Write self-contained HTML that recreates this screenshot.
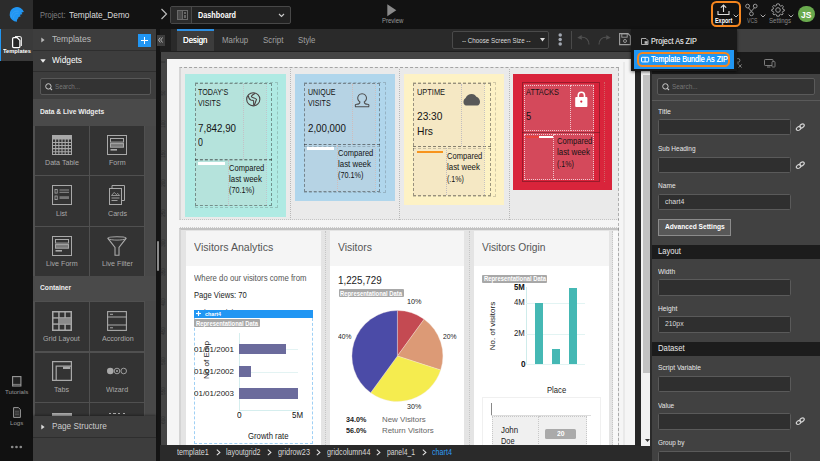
<!DOCTYPE html>
<html><head><meta charset="utf-8"><title>Studio</title>
<style>
*{box-sizing:border-box;margin:0;padding:0}
html,body{width:820px;height:461px;overflow:hidden;background:#111;font-family:"Liberation Sans",sans-serif;}
.a{position:absolute}
#root{position:relative;width:820px;height:461px;overflow:hidden;background:#111;color:#ddd;font-size:9px}
.t{position:absolute;white-space:nowrap;line-height:1}
svg{position:absolute;overflow:visible}
</style></head><body>
<div id="root">

<!-- part1.html -->
<div class="a" style="left:0.00px;top:0.00px;width:820.00px;height:29.00px;background:#121212;"></div>
<div class="a" style="left:0.00px;top:0.00px;width:33.40px;height:28.60px;background:#2c2c2c;"></div>
<div class="a" style="left:0.00px;top:29.00px;width:33.00px;height:432.00px;background:#111;"></div>
<div class="a" style="left:0.00px;top:29.00px;width:33.00px;height:32.00px;background:#3a3a3a;border-left:1px solid #2196f3;"></div>
<div class="a" style="left:33.00px;top:29.00px;width:123.00px;height:432.00px;background:#3d3d3d;"></div>
<div class="a" style="left:156.00px;top:29.00px;width:4.00px;height:432.00px;background:#141414;"></div>
<div class="a" style="left:160.00px;top:29.00px;width:491.00px;height:22.00px;background:#2a2a2a;"></div>
<div class="a" style="left:160.00px;top:51.00px;width:481.00px;height:395.00px;background:#454545;"></div>
<div class="a" style="left:159.50px;top:51.00px;width:1.20px;height:395.00px;background:#161616;"></div>
<div class="a" style="left:167.00px;top:59.00px;width:468.00px;height:387.00px;background:#f5f5f5;"></div>
<div class="a" style="left:635.00px;top:51.00px;width:6.00px;height:395.00px;background:#262626;"></div>
<div class="a" style="left:641.00px;top:51.00px;width:9.30px;height:395.00px;background:#f1f1f1;"></div>
<div class="a" style="left:643.00px;top:75.00px;width:7.30px;height:298.00px;background:#c1c1c1;"></div>
<div class="a" style="left:160.00px;top:445.00px;width:491.00px;height:16.00px;background:#2a2a2a;"></div>
<div class="a" style="left:651.00px;top:29.00px;width:169.00px;height:432.00px;background:#3f3f3f;"></div>
<div class="a" style="left:651.00px;top:51.50px;width:169.00px;height:22.00px;background:#1a1a1a;"></div>
<svg style="left:0;top:0" width="34" height="29" viewBox="0 0 34 29"><path d="M16.9 21.7 A7.35 7.35 0 1 1 23.9 11.9 C22.9 11.9 22.1 12.2 21.4 12.7 C21.9 13.1 22.3 13.6 22.4 14.3 C21.4 14.2 20.6 14.5 19.9 15 C20.4 15.4 20.6 15.9 20.6 16.5 C19.7 16.5 18.9 16.8 18.3 17.3 C18.5 17.8 18.4 18.2 18.2 18.6 C17.4 19 16.9 19.7 16.9 21.7Z" fill="#2196f3"/><path d="M11.5 17.5 C11.3 13 14.5 10.6 18.6 11.2 M13.6 18.6 C13.2 15 15.6 13 18.4 13.3" fill="none" stroke="#3aa4f6" stroke-width="0.7"/></svg><div class="t" style="left:40.00px;top:11px;font-size:8.3px;color:#808080;transform:scaleX(0.9063);transform-origin:0 0;">Project:</div>
<div class="t" style="left:68.50px;top:11px;font-size:8.7px;color:#ddd;transform:scaleX(0.9552);transform-origin:0 0;">Template_Demo</div>
<svg style="left:160px;top:8px" width="8" height="12" viewBox="0 0 8 12"><path d="M1.5 1 L6.5 6 L1.5 11" fill="none" stroke="#bbb" stroke-width="1.2"/></svg><div class="a" style="left:170.00px;top:6.00px;width:121.00px;height:18.00px;background:#222;border:1px solid #484848;border-radius:2px;"></div>
<div class="a" style="left:171.00px;top:7.00px;width:20.50px;height:16.00px;background:#2b2b2b;border-right:1px solid #484848;"></div>
<svg style="left:177px;top:10px" width="11" height="10" viewBox="0 0 11 10"><rect x="0.5" y="0.5" width="10" height="9" fill="none" stroke="#6a6a6a" stroke-width="1"/><rect x="1" y="1" width="4" height="8" fill="#4a4a4a"/><line x1="5.5" y1="0" x2="5.5" y2="10" stroke="#6a6a6a"/><rect x="7" y="2" width="2" height="2" fill="#666"/><rect x="7" y="5" width="2" height="3" fill="#666"/></svg><div class="t" style="left:198.00px;top:11px;font-size:8.3px;color:#fff;font-weight:bold;transform:scaleX(0.8768);transform-origin:0 0;">Dashboard</div>
<svg style="left:278px;top:13px" width="7" height="5" viewBox="0 0 7 5"><path d="M1 1 L3.5 3.5 L6 1" fill="none" stroke="#ccc" stroke-width="1.1"/></svg><svg style="left:387px;top:4px" width="10" height="13" viewBox="0 0 10 13"><path d="M0.3 0.3 L9.3 6.3 L0.3 12.3Z" fill="#8a8a8a"/></svg><div class="t" style="left:381.60px;top:18px;font-size:6.6px;color:#999;transform:scaleX(0.9117);transform-origin:0 0;">Preview</div>
<div class="a" style="left:710.80px;top:0.80px;width:30.20px;height:26.60px;border:2.2px solid #f5861f;border-radius:5.5px;"></div>
<svg style="left:717px;top:4px" width="13" height="12" viewBox="0 0 13 12"><path d="M1 7 V10.5 H12 V7" fill="none" stroke="#ddd" stroke-width="1.1"/><path d="M6.5 8 V1.2 M3.8 3.6 L6.5 1 L9.2 3.6" fill="none" stroke="#ddd" stroke-width="1.1"/></svg><div class="t" style="left:714.80px;top:18px;font-size:6.6px;color:#fff;font-weight:bold;transform:scaleX(0.8230);transform-origin:0 0;">Export</div>
<svg style="left:732.5px;top:14.0px" width="6" height="4" viewBox="0 0 6 4"><path d="M0.7 0.7 L3 3 L5.3 0.7" fill="none" stroke="#bbb" stroke-width="1"/></svg><svg style="left:745px;top:3px" width="13" height="14" viewBox="0 0 13 14"><g fill="none" stroke="#999" stroke-width="1"><circle cx="2.6" cy="3.1" r="1.9"/><circle cx="10.2" cy="3.1" r="1.9"/><circle cx="6.4" cy="10.8" r="1.9"/><path d="M3.4 4.8 L6.4 8.2 L9.4 4.8 M6.4 8.2 V8.9"/></g></svg><div class="t" style="left:746.50px;top:18px;font-size:6.6px;color:#888;transform:scaleX(0.7737);transform-origin:0 0;">VCS</div>
<svg style="left:760.0px;top:14.0px" width="6" height="4" viewBox="0 0 6 4"><path d="M0.7 0.7 L3 3 L5.3 0.7" fill="none" stroke="#aaa" stroke-width="1"/></svg><svg style="left:771px;top:3px" width="14" height="14" viewBox="0 0 14 14"><g fill="none" stroke="#999" stroke-width="1"><circle cx="7" cy="7" r="2.3"/><path d="M7 0.8 L8.3 1 L8.7 2.6 L9.9 3.2 L11.3 2.4 L12.4 3.7 L11.5 5 L11.9 6.2 L13.3 6.6 L13.3 8 L11.8 8.4 L11.3 9.6 L12.2 10.9 L11 12 L9.7 11.2 L8.6 11.7 L8.2 13.2 L5.8 13.2 L5.4 11.7 L4.3 11.2 L3 12 L1.8 10.9 L2.7 9.6 L2.2 8.4 L0.7 8 L0.7 6.6 L2.1 6.2 L2.5 5 L1.6 3.7 L2.7 2.4 L4.1 3.2 L5.3 2.6 L5.7 1 Z"/></g></svg><div class="t" style="left:769.00px;top:18px;font-size:6.6px;color:#888;transform:scaleX(0.9225);transform-origin:0 0;">Settings</div>
<svg style="left:787.5px;top:14.0px" width="6" height="4" viewBox="0 0 6 4"><path d="M0.7 0.7 L3 3 L5.3 0.7" fill="none" stroke="#aaa" stroke-width="1"/></svg><div class="a" style="left:798.40px;top:6.10px;width:16.40px;height:16.40px;background:#6aaa4e;border-radius:50%;"></div>
<div class="t" style="left:801.00px;top:12px;font-size:8.2px;color:#fff;font-weight:bold;transform:scaleX(1.0344);transform-origin:0 0;">JS</div>
<svg style="left:0;top:0" width="34" height="62" viewBox="0 0 34 62"><path d="M15 36.5 h4.4 q2 0 2 2 v7.6" fill="none" stroke="#e8e8e8" stroke-width="1.1"/><path d="M12.6 38.8 q0 -1.1 1.1 -1.1 h3.5 l2.7 2.7 v6.2 q0 1.1 -1.1 1.1 h-5.1 q-1.1 0 -1.1 -1.1 z" fill="#262626" stroke="#fff" stroke-width="1.25"/></svg><div class="t" style="left:3.00px;top:48px;font-size:6.2px;color:#fff;font-weight:bold;transform:scaleX(0.9271);transform-origin:0 0;">Templates</div>
<svg style="left:12px;top:376px" width="10" height="11" viewBox="0 0 10 11"><rect x="0.6" y="0.6" width="8.3" height="9.4" fill="#222" stroke="#999" stroke-width="1.1"/><path d="M0.6 8.4 H9" stroke="#999" stroke-width="0.8"/></svg><div class="t" style="left:4.60px;top:389px;font-size:6.2px;color:#999;transform:scaleX(0.9941);transform-origin:0 0;">Tutorials</div>
<svg style="left:13px;top:407px" width="8" height="11" viewBox="0 0 8 11"><path d="M0.6 0.6 H5.5 L7.4 2.6 V10.4 H0.6Z" fill="#222" stroke="#999" stroke-width="1"/><path d="M2 4.2H6M2 6H6M2 7.8H6" stroke="#777" stroke-width="0.7"/></svg><div class="t" style="left:9.80px;top:420px;font-size:6.2px;color:#999;transform:scaleX(0.9820);transform-origin:0 0;">Logs</div>
<svg style="left:10px;top:444px" width="14" height="6" viewBox="0 0 14 6"><circle cx="2.2" cy="3" r="1.35" fill="#8a8a8a"/><circle cx="6.5" cy="3" r="1.35" fill="#8a8a8a"/><circle cx="10.8" cy="3" r="1.35" fill="#8a8a8a"/></svg>
<!-- part3.html -->
<div class="a" style="left:160.00px;top:29.00px;width:11.20px;height:22.00px;background:#1e1e1e;"></div>
<div class="a" style="left:176.60px;top:29.00px;width:37.00px;height:22.00px;background:#3c3c3c;border-top:2px solid #2d8ee0;"></div>
<div class="t" style="left:183.00px;top:36px;font-size:8.3px;color:#fff;transform:scaleX(0.9446);transform-origin:0 0;text-shadow:0 0 0.4px #fff;">Design</div>
<div class="t" style="left:222.00px;top:36px;font-size:8.3px;color:#a0a0a0;transform:scaleX(0.9468);transform-origin:0 0;">Markup</div>
<div class="t" style="left:263.20px;top:36px;font-size:8.3px;color:#a0a0a0;transform:scaleX(0.9616);transform-origin:0 0;">Script</div>
<div class="t" style="left:298.40px;top:36px;font-size:8.3px;color:#a0a0a0;transform:scaleX(0.9430);transform-origin:0 0;">Style</div>
<div class="a" style="left:452.40px;top:31.40px;width:96.80px;height:17.80px;background:#262626;border:1px solid #4a4a4a;border-radius:2px;"></div>
<div class="t" style="left:462.00px;top:37px;font-size:7.2px;color:#ddd;transform:scaleX(0.8660);transform-origin:0 0;">-- Choose Screen Size --</div>
<svg style="left:540.0px;top:38.0px;" width="5" height="4" viewBox="0 0 5 4"><path d="M0 0H5L2.5 3.6Z" fill="#ddd"/></svg>
<svg style="left:556.0px;top:32.0px;" width="8" height="14" viewBox="0 0 8 14"><circle cx="4.2" cy="3.1" r="1.75" fill="#a2a8b2"/><circle cx="4.2" cy="7.5" r="1.75" fill="#a2a8b2"/><circle cx="4.2" cy="11.9" r="1.75" fill="#a2a8b2"/></svg>
<div class="a" style="left:571.10px;top:31.40px;width:0.90px;height:17.60px;background:#4a4a4a;"></div>
<svg style="left:576.0px;top:33.0px;" width="15" height="13" viewBox="0 0 15 13"><path d="M13 11.6 C13 6.6 9.6 3.8 5.4 4.3" fill="none" stroke="#505050" stroke-width="1.15"/><path d="M1.3 4.7 L5.6 2.1 L5.9 6.7Z" fill="#505050"/></svg>
<svg style="left:597.0px;top:33.0px;" width="15" height="13" viewBox="0 0 15 13"><path d="M2 11.6 C2 6.6 5.4 3.8 9.6 4.3" fill="none" stroke="#505050" stroke-width="1.15"/><path d="M13.7 4.7 L9.4 2.1 L9.1 6.7Z" fill="#505050"/></svg>
<svg style="left:619.3px;top:33.4px;" width="12" height="12.2" viewBox="0 0 12 12.2"><path d="M0.6 0.6 H9 L11.4 3 V11.6 H0.6Z" fill="none" stroke="#a0a0a0" stroke-width="1.1"/><rect x="2.8" y="0.8" width="5.4" height="3.4" fill="none" stroke="#a0a0a0" stroke-width="0.9"/><circle cx="6" cy="8" r="1.5" fill="none" stroke="#a0a0a0" stroke-width="0.9"/></svg>
<div class="a" style="left:160.00px;top:51.00px;width:481.00px;height:1.30px;background:#1f1f1f;"></div>
<div class="t" style="left:163.6px;top:62.4px;font-size:4.6px;color:#2b2b2b;transform:translate(-50%,-50%) rotate(-90deg);transform-origin:50% 50%">0</div>
<div class="t" style="left:163.6px;top:93.3px;font-size:4.6px;color:#2b2b2b;transform:translate(-50%,-50%) rotate(-90deg);transform-origin:50% 50%">50</div>
<div class="t" style="left:163.6px;top:124.2px;font-size:4.6px;color:#2b2b2b;transform:translate(-50%,-50%) rotate(-90deg);transform-origin:50% 50%">100</div>
<div class="t" style="left:163.6px;top:153.8px;font-size:4.6px;color:#2b2b2b;transform:translate(-50%,-50%) rotate(-90deg);transform-origin:50% 50%">150</div>
<div class="t" style="left:163.6px;top:183.4px;font-size:4.6px;color:#2b2b2b;transform:translate(-50%,-50%) rotate(-90deg);transform-origin:50% 50%">200</div>
<div class="t" style="left:163.6px;top:213.0px;font-size:4.6px;color:#2b2b2b;transform:translate(-50%,-50%) rotate(-90deg);transform-origin:50% 50%">250</div>
<div class="t" style="left:163.6px;top:242.6px;font-size:4.6px;color:#2b2b2b;transform:translate(-50%,-50%) rotate(-90deg);transform-origin:50% 50%">300</div>
<div class="t" style="left:163.6px;top:272.2px;font-size:4.6px;color:#2b2b2b;transform:translate(-50%,-50%) rotate(-90deg);transform-origin:50% 50%">350</div>
<div class="t" style="left:163.6px;top:301.8px;font-size:4.6px;color:#2b2b2b;transform:translate(-50%,-50%) rotate(-90deg);transform-origin:50% 50%">400</div>
<div class="t" style="left:163.6px;top:331.4px;font-size:4.6px;color:#2b2b2b;transform:translate(-50%,-50%) rotate(-90deg);transform-origin:50% 50%">450</div>
<div class="t" style="left:163.6px;top:361.0px;font-size:4.6px;color:#2b2b2b;transform:translate(-50%,-50%) rotate(-90deg);transform-origin:50% 50%">500</div>
<div class="t" style="left:163.6px;top:390.6px;font-size:4.6px;color:#2b2b2b;transform:translate(-50%,-50%) rotate(-90deg);transform-origin:50% 50%">550</div>
<div class="t" style="left:163.6px;top:420.2px;font-size:4.6px;color:#2b2b2b;transform:translate(-50%,-50%) rotate(-90deg);transform-origin:50% 50%">600</div>
<div class="a" style="left:179.20px;top:67.40px;width:439.40px;height:152.80px;background:#eaeaea;border-top:1.6px dashed #a4a4a4;border-left:2.6px solid #d6d6d6;border-right:none;border-bottom:1px dotted #c4c4c4;"></div>
<div class="a" style="left:290.00px;top:68.50px;width:1.00px;height:151.00px;border-left:1px dotted #b8b8b8;"></div>
<div class="a" style="left:398.70px;top:68.50px;width:1.00px;height:151.00px;border-left:1px dotted #b8b8b8;"></div>
<div class="a" style="left:508.50px;top:68.50px;width:1.00px;height:151.00px;border-left:1px dotted #b8b8b8;"></div>
<div class="a" style="left:623.20px;top:62.00px;width:1.80px;height:383.00px;background:#e9e9e9;"></div>
<div class="a" style="left:179.20px;top:228.20px;width:439.40px;height:218.00px;background:#e4e4e4;border-top:2.2px solid #c2c2c2;border-left:2.6px solid #d4d4d4;"></div>
<div class="a" style="left:613.00px;top:230.60px;width:5.40px;height:216.00px;background:#f8f8f8;"></div>
<div class="a" style="left:180.00px;top:226.50px;width:438.60px;height:1.00px;border-top:1px dotted #ccc;"></div>
<div class="a" style="left:618.10px;top:68.00px;width:1.00px;height:378.00px;border-left:1px dashed rgba(90,90,90,.42);"></div>
<div class="a" style="left:325.10px;top:231.00px;width:1.00px;height:216.00px;border-left:1px dotted #c6c6c6;"></div>
<div class="a" style="left:468.70px;top:231.00px;width:1.00px;height:216.00px;border-left:1px dotted #c6c6c6;"></div>
<div class="a" style="left:612.10px;top:231.00px;width:1.00px;height:216.00px;border-left:1px dotted #c6c6c6;"></div>
<div class="a" style="left:185.00px;top:74.00px;width:101.00px;height:142.60px;background:#afeae3;"></div>
<div class="a" style="left:194.50px;top:82.00px;width:83.00px;height:125.80px;border:1px dashed rgba(60,60,60,.22);"></div>
<div class="a" style="left:195.00px;top:82.80px;width:71.40px;height:123.60px;background:#b5e3dc;"></div>
<div class="a" style="left:195.00px;top:82.80px;width:77.00px;height:123.60px;border:1px dashed rgba(40,40,40,.45);"></div>
<div class="a" style="left:195.00px;top:158.80px;width:77.00px;height:1.00px;border-top:1px dashed rgba(40,40,40,.55);"></div>
<div class="a" style="left:195.00px;top:160.40px;width:77.00px;height:1.00px;border-top:1px dashed rgba(40,40,40,.22);"></div>
<div class="a" style="left:243.00px;top:83.80px;width:1.00px;height:75.00px;border-left:1px dotted rgba(215,150,170,.45);"></div>
<div class="a" style="left:266.40px;top:83.80px;width:1.00px;height:121.60px;border-left:1px dotted rgba(215,150,170,.45);"></div>
<div class="t" style="left:198.40px;top:89px;font-size:8.2px;color:#141414;transform:scaleX(0.8758);transform-origin:0 0;">TODAY'S</div>
<div class="t" style="left:198.40px;top:100px;font-size:8.2px;color:#141414;transform:scaleX(0.8750);transform-origin:0 0;">VISITS</div>
<div class="t" style="left:198.40px;top:123px;font-size:10.6px;color:#141414;transform:scaleX(0.9210);transform-origin:0 0;">7,842,90</div>
<div class="t" style="left:198.40px;top:137px;font-size:10.6px;color:#141414;transform:scaleX(0.8313);transform-origin:0 0;">0</div>
<div class="a" style="left:198.00px;top:162.00px;width:27.00px;height:3.00px;background:#fff;"></div>
<div class="a" style="left:227.50px;top:160.00px;width:1.00px;height:46.00px;border-left:1px dotted rgba(215,150,170,.45);"></div>
<div class="t" style="left:228.60px;top:165px;font-size:8.2px;color:#141414;transform:scaleX(0.9240);transform-origin:0 0;">Compared</div>
<div class="t" style="left:228.60px;top:176px;font-size:8.2px;color:#141414;transform:scaleX(0.9654);transform-origin:0 0;">last week</div>
<div class="t" style="left:228.60px;top:187px;font-size:8.2px;color:#141414;transform:scaleX(0.8879);transform-origin:0 0;">(70.1%)</div>
<svg style="left:246.0px;top:92.0px;" width="15" height="15" viewBox="0 0 15 15"><circle cx="7.25" cy="7.25" r="6.6" fill="none" stroke="#4a4040" stroke-width="1.05"/><path d="M9.3 1.2 C7.4 2.2 5.4 3.4 5.4 4.7 C5.6 5.8 8.6 5.6 10.5 7.3 L8.3 13.5 M2.3 3.6 C2.6 5.8 3.6 7.6 4.9 8.1 C6.2 8.5 7 8.1 7.6 8.8 L7.7 13.6" fill="none" stroke="#4a4040" stroke-width="1.05"/></svg>
<div class="a" style="left:295.00px;top:74.00px;width:100.00px;height:127.40px;background:#b0d6ec;"></div>
<div class="a" style="left:303.90px;top:82.20px;width:82.50px;height:110.80px;border:1px dashed rgba(60,60,60,.22);"></div>
<div class="a" style="left:304.40px;top:83.00px;width:70.70px;height:108.60px;background:#b6d3e4;"></div>
<div class="a" style="left:304.40px;top:83.00px;width:75.60px;height:108.60px;border:1px dashed rgba(40,40,40,.45);"></div>
<div class="a" style="left:304.40px;top:144.00px;width:75.60px;height:1.00px;border-top:1px dashed rgba(40,40,40,.55);"></div>
<div class="a" style="left:304.40px;top:145.60px;width:75.60px;height:1.00px;border-top:1px dashed rgba(40,40,40,.22);"></div>
<div class="a" style="left:352.40px;top:84.00px;width:1.00px;height:60.00px;border-left:1px dotted rgba(225,175,160,.6);"></div>
<div class="a" style="left:375.10px;top:84.00px;width:1.00px;height:106.60px;border-left:1px dotted rgba(225,175,160,.6);"></div>
<div class="t" style="left:307.60px;top:89px;font-size:8.2px;color:#141414;transform:scaleX(0.8614);transform-origin:0 0;">UNIQUE</div>
<div class="t" style="left:307.60px;top:100px;font-size:8.2px;color:#141414;transform:scaleX(0.8750);transform-origin:0 0;">VISITS</div>
<div class="t" style="left:307.60px;top:123px;font-size:10.6px;color:#141414;transform:scaleX(0.9162);transform-origin:0 0;">2,00,000</div>
<div class="a" style="left:307.00px;top:147.00px;width:27.00px;height:2.60px;background:#fff;"></div>
<div class="a" style="left:336.50px;top:145.00px;width:1.00px;height:46.00px;border-left:1px dotted rgba(225,175,160,.6);"></div>
<div class="t" style="left:338.00px;top:150px;font-size:8.2px;color:#141414;transform:scaleX(0.9240);transform-origin:0 0;">Compared</div>
<div class="t" style="left:338.00px;top:161px;font-size:8.2px;color:#141414;transform:scaleX(0.9654);transform-origin:0 0;">last week</div>
<div class="t" style="left:338.00px;top:172px;font-size:8.2px;color:#141414;transform:scaleX(0.8879);transform-origin:0 0;">(70.1%)</div>
<svg style="left:355.0px;top:92.5px;" width="15" height="15" viewBox="0 0 15 15"><path d="M4.9 8.9 A4.4 4.4 0 1 1 9.3 8.9 C9.3 10.4 10.2 11.2 12.4 11.3 C13.6 11.4 14 11.8 13.9 12.6 L13.7 13.8 H0.5 L0.3 12.6 C0.2 11.8 0.6 11.4 1.8 11.3 C4 11.2 4.9 10.4 4.9 8.9Z" fill="none" stroke="#4d4d4d" stroke-width="1.05"/></svg>
<div class="a" style="left:404.40px;top:74.00px;width:99.60px;height:131.00px;background:#fdf2c5;"></div>
<div class="a" style="left:412.50px;top:82.20px;width:83.00px;height:114.80px;border:1px dashed rgba(60,60,60,.22);"></div>
<div class="a" style="left:413.00px;top:83.00px;width:71.40px;height:112.60px;background:#f5e8c4;"></div>
<div class="a" style="left:413.00px;top:83.00px;width:77.60px;height:112.60px;border:1px dashed rgba(40,40,40,.45);"></div>
<div class="a" style="left:413.00px;top:146.40px;width:77.60px;height:1.00px;border-top:1px dashed rgba(40,40,40,.55);"></div>
<div class="a" style="left:413.00px;top:148.00px;width:77.60px;height:1.00px;border-top:1px dashed rgba(40,40,40,.22);"></div>
<div class="a" style="left:461.00px;top:84.00px;width:1.00px;height:62.40px;border-left:1px dotted rgba(160,160,190,.6);"></div>
<div class="a" style="left:484.40px;top:84.00px;width:1.00px;height:110.60px;border-left:1px dotted rgba(160,160,190,.6);"></div>
<div class="t" style="left:416.60px;top:89px;font-size:8.2px;color:#141414;transform:scaleX(0.9059);transform-origin:0 0;">UPTIME</div>
<div class="t" style="left:416.60px;top:111px;font-size:10.6px;color:#141414;transform:scaleX(0.9576);transform-origin:0 0;">23:30</div>
<div class="t" style="left:416.60px;top:126px;font-size:10.6px;color:#141414;transform:scaleX(0.9706);transform-origin:0 0;">Hrs</div>
<div class="a" style="left:416.60px;top:150.60px;width:26.40px;height:2.40px;background:#f7941d;"></div>
<div class="a" style="left:445.50px;top:148.00px;width:1.00px;height:47.00px;border-left:1px dotted rgba(160,160,190,.6);"></div>
<div class="t" style="left:447.40px;top:153px;font-size:8.2px;color:#141414;transform:scaleX(0.9240);transform-origin:0 0;">Compared</div>
<div class="t" style="left:447.40px;top:164px;font-size:8.2px;color:#141414;transform:scaleX(0.9654);transform-origin:0 0;">last week</div>
<div class="t" style="left:447.40px;top:176px;font-size:8.2px;color:#141414;transform:scaleX(0.8574);transform-origin:0 0;">(.1%)</div>
<svg style="left:463.0px;top:94.0px;" width="17" height="12" viewBox="0 0 17 12"><path d="M3.2 11.5 C1.4 11.5 0.4 9.8 0.45 7.8 C0.5 6 1.4 4.6 2.6 3.9 C3.8 1.6 6 0 8.7 0 C11 0 12.4 1.2 13.4 2.8 C15.6 3.6 17 5.6 17 7.8 C17 9.8 16 11.5 14.2 11.5 Z" fill="#585858"/></svg>
<div class="a" style="left:513.40px;top:74.00px;width:99.00px;height:115.80px;background:#d9243b;"></div>
<div class="a" style="left:522.00px;top:82.00px;width:78.30px;height:99.60px;border:1px solid rgba(90,20,30,.5);"></div>
<div class="a" style="left:604.30px;top:82.00px;width:1.00px;height:99.60px;border-left:1px dotted rgba(200,160,140,.5);"></div>
<div class="a" style="left:524.00px;top:84.00px;width:70.00px;height:96.00px;background:#d4495b;"></div>
<div class="a" style="left:524.40px;top:84.60px;width:46.90px;height:46.00px;border:1px dotted rgba(255,255,255,.7);"></div>
<div class="a" style="left:571.30px;top:84.60px;width:23.10px;height:46.00px;border:1px dotted rgba(255,255,255,.7);border-left:none;"></div>
<div class="a" style="left:522.00px;top:132.00px;width:78.00px;height:1.00px;border-top:1px solid rgba(90,20,30,.5);"></div>
<div class="a" style="left:524.40px;top:134.00px;width:30.00px;height:45.60px;border:1px dotted rgba(255,255,255,.7);"></div>
<div class="a" style="left:554.40px;top:134.00px;width:40.00px;height:45.60px;border:1px dotted rgba(255,255,255,.7);border-left:none;"></div>
<div class="t" style="left:526.00px;top:89px;font-size:8.2px;color:#141414;transform:scaleX(0.9018);transform-origin:0 0;">ATTACKS</div>
<div class="t" style="left:526.00px;top:111px;font-size:10.6px;color:#141414;transform:scaleX(0.8822);transform-origin:0 0;">5</div>
<div class="a" style="left:526.00px;top:136.00px;width:12.60px;height:2.20px;background:#e8423c;"></div>
<div class="a" style="left:538.60px;top:136.00px;width:14.40px;height:2.20px;background:#fff;"></div>
<div class="t" style="left:556.60px;top:138px;font-size:8.2px;color:#141414;transform:scaleX(0.9240);transform-origin:0 0;">Compared</div>
<div class="t" style="left:556.60px;top:149px;font-size:8.2px;color:#141414;transform:scaleX(0.9654);transform-origin:0 0;">last week</div>
<div class="t" style="left:556.60px;top:161px;font-size:8.2px;color:#141414;transform:scaleX(0.8574);transform-origin:0 0;">(.1%)</div>
<svg style="left:574.8px;top:91.0px;" width="13" height="16" viewBox="0 0 13 16"><path d="M3.3 7 V4.3 C3.3 0.2 9.5 0.2 9.5 4.3 V7" fill="none" stroke="#fff" stroke-width="1.6"/><rect x="0.2" y="6" width="12.2" height="10" rx="0.9" fill="#fff"/><circle cx="6.3" cy="10.6" r="1.1" fill="#d9243b"/></svg>
<div class="a" style="left:185.60px;top:231.20px;width:135.40px;height:34.40px;background:#f5f5f5;"></div>
<div class="a" style="left:185.60px;top:265.60px;width:135.40px;height:181.00px;background:#fff;"></div>
<div class="t" style="left:194.00px;top:242px;font-size:11.2px;color:#555;transform:scaleX(0.9473);transform-origin:0 0;">Visitors Analytics</div>
<div class="a" style="left:330.00px;top:231.20px;width:134.40px;height:34.40px;background:#f5f5f5;"></div>
<div class="a" style="left:330.00px;top:265.60px;width:134.40px;height:181.00px;background:#fff;"></div>
<div class="t" style="left:338.40px;top:242px;font-size:11.2px;color:#555;transform:scaleX(0.9312);transform-origin:0 0;">Visitors</div>
<div class="a" style="left:474.00px;top:231.20px;width:134.60px;height:34.40px;background:#f5f5f5;"></div>
<div class="a" style="left:474.00px;top:265.60px;width:134.60px;height:181.00px;background:#fff;"></div>
<div class="t" style="left:482.40px;top:242px;font-size:11.2px;color:#555;transform:scaleX(0.9152);transform-origin:0 0;">Visitors Origin</div>
<div class="t" style="left:194.00px;top:275px;font-size:8.2px;color:#555;transform:scaleX(0.9507);transform-origin:0 0;">Where do our visitors come from</div>
<div class="t" style="left:194.00px;top:292px;font-size:8.2px;color:#222;transform:scaleX(0.9284);transform-origin:0 0;">Page Views: 70</div>
<div class="t" style="left:194.00px;top:310px;font-size:8.2px;color:#222;transform:scaleX(0.9496);transform-origin:0 0;">Unique Visitors: 40</div>
<div class="a" style="left:194.40px;top:310.00px;width:118.80px;height:7.60px;background:#2196f3;"></div>
<svg style="left:196.0px;top:311.3px;" width="5" height="5" viewBox="0 0 5 5"><path d="M2.5 0V5M0 2.5H5" stroke="#fff" stroke-width="1"/><path d="M2.5 0L1.5 1.2H3.5ZM2.5 5L1.5 3.8H3.5ZM0 2.5L1.2 1.5V3.5ZM5 2.5L3.8 1.5V3.5Z" fill="#fff"/></svg>
<div class="t" style="left:205.00px;top:312px;font-size:5.9px;color:#fff;font-weight:bold;transform:scaleX(0.9036);transform-origin:0 0;">chart4</div>
<div class="a" style="left:194.40px;top:317.60px;width:118.80px;height:126.40px;border:1px dashed #9fd0f5;border-top:none;"></div>
<div class="a" style="left:194.40px;top:319.40px;width:65.40px;height:8.00px;background:#a8a8a8;border-radius:1px;"></div>
<div class="t" style="left:196.20px;top:321px;font-size:6.5px;color:#fff;font-weight:bold;transform:scaleX(0.9034);transform-origin:0 0;">Representational Data</div>
<div class="a" style="left:239.00px;top:333.00px;width:0.80px;height:77.00px;background:#d5eeee;"></div>
<div class="a" style="left:239.00px;top:410.00px;width:60.00px;height:0.80px;background:#d5eeee;"></div>
<div class="a" style="left:286.00px;top:349.00px;width:12.00px;height:0.60px;background:#e3f3f3;"></div>
<div class="a" style="left:251.00px;top:371.50px;width:47.00px;height:0.60px;background:#e3f3f3;"></div>
<div class="a" style="left:239.40px;top:344.00px;width:46.60px;height:10.40px;background:#6b6b9c;"></div>
<div class="a" style="left:239.40px;top:366.40px;width:11.60px;height:10.40px;background:#6b6b9c;"></div>
<div class="a" style="left:239.40px;top:388.40px;width:58.60px;height:10.60px;background:#6b6b9c;"></div>
<div class="t" style="left:194.40px;top:346px;font-size:7.4px;color:#222;transform:scaleX(1.0802);transform-origin:0 0;">01/01/2001</div>
<div class="t" style="left:194.40px;top:368px;font-size:7.4px;color:#222;transform:scaleX(1.0802);transform-origin:0 0;">01/01/2002</div>
<div class="t" style="left:194.40px;top:390px;font-size:7.4px;color:#222;transform:scaleX(1.0802);transform-origin:0 0;">01/01/2003</div>
<div class="t" style="left:206.8px;top:360px;font-size:7.6px;color:#222;transform:translate(-50%,-50%) rotate(-90deg) scaleX(1.058);transform-origin:50% 50%">No of Emp</div>
<div class="t" style="left:236.60px;top:411px;font-size:8.4px;color:#111;transform:scaleX(0.9850);transform-origin:0 0;">0</div>
<div class="t" style="left:292.40px;top:411px;font-size:8.4px;color:#111;transform:scaleX(0.9429);transform-origin:0 0;">5M</div>
<div class="t" style="left:248.00px;top:433px;font-size:8.2px;color:#222;transform:scaleX(0.9457);transform-origin:0 0;">Growth rate</div>
<div class="t" style="left:338.40px;top:275px;font-size:10.6px;color:#222;transform:scaleX(0.9247);transform-origin:0 0;">1,225,729</div>
<div class="a" style="left:338.60px;top:289.40px;width:65.40px;height:8.00px;background:#a8a8a8;border-radius:1px;"></div>
<div class="t" style="left:340.40px;top:291px;font-size:6.5px;color:#fff;font-weight:bold;transform:scaleX(0.9034);transform-origin:0 0;">Representational Data</div>
<svg style="left:0;top:0" width="820" height="461" viewBox="0 0 820 461"><path d="M397.40 356.00 L397.40 310.50 A45.50 45.50 0 0 1 424.14 319.19 Z" fill="#c44a52" stroke="#f3e9e0" stroke-width="0.35"/><path d="M397.40 356.00 L424.14 319.19 A45.50 45.50 0 0 1 440.67 370.06 Z" fill="#dc9a76" stroke="#f3e9e0" stroke-width="0.35"/><path d="M397.40 356.00 L440.67 370.06 A45.50 45.50 0 0 1 370.66 392.81 Z" fill="#f5ec4f" stroke="#f3e9e0" stroke-width="0.35"/><path d="M397.40 356.00 L370.66 392.81 A45.50 45.50 0 0 1 397.40 310.50 Z" fill="#4b4ba7" stroke="#f3e9e0" stroke-width="0.35"/></svg>
<div class="t" style="left:407.40px;top:298px;font-size:7.4px;color:#222;transform:scaleX(0.9859);transform-origin:0 0;">10%</div>
<div class="t" style="left:338.00px;top:333px;font-size:7.4px;color:#222;transform:scaleX(0.9049);transform-origin:0 0;">40%</div>
<div class="t" style="left:443.40px;top:333px;font-size:7.4px;color:#222;transform:scaleX(0.9184);transform-origin:0 0;">20%</div>
<div class="t" style="left:407.40px;top:403px;font-size:7.4px;color:#222;transform:scaleX(0.9589);transform-origin:0 0;">30%</div>
<div class="t" style="left:346.00px;top:416px;font-size:7.6px;color:#222;font-weight:bold;transform:scaleX(0.9467);transform-origin:0 0;">34.0%</div>
<div class="t" style="left:346.00px;top:427px;font-size:7.6px;color:#222;font-weight:bold;transform:scaleX(0.9467);transform-origin:0 0;">56.0%</div>
<div class="t" style="left:381.60px;top:416px;font-size:7.6px;color:#666;transform:scaleX(1.0406);transform-origin:0 0;">New Visitors</div>
<div class="t" style="left:381.60px;top:427px;font-size:7.6px;color:#666;transform:scaleX(1.0423);transform-origin:0 0;">Return Visitors</div>
<div class="a" style="left:482.00px;top:274.60px;width:65.40px;height:8.00px;background:#a8a8a8;border-radius:1px;"></div>
<div class="t" style="left:483.80px;top:276px;font-size:6.5px;color:#fff;font-weight:bold;transform:scaleX(0.9034);transform-origin:0 0;">Representational Data</div>
<div class="a" style="left:526.40px;top:287.00px;width:0.80px;height:77.00px;background:#cfeceb;"></div>
<div class="a" style="left:526.40px;top:302.80px;width:59.00px;height:0.70px;background:#e2f4f3;"></div>
<div class="a" style="left:526.40px;top:333.50px;width:59.00px;height:0.70px;background:#e2f4f3;"></div>
<div class="a" style="left:526.40px;top:364.00px;width:59.00px;height:0.70px;background:#e2f4f3;"></div>
<div class="a" style="left:535.00px;top:303.00px;width:8.20px;height:61.00px;background:#45b8b4;"></div>
<div class="a" style="left:551.60px;top:349.00px;width:8.40px;height:15.00px;background:#45b8b4;"></div>
<div class="a" style="left:568.60px;top:287.60px;width:8.40px;height:76.40px;background:#45b8b4;"></div>
<div class="t" style="left:513.60px;top:283px;font-size:8.4px;color:#111;font-weight:bold;transform:scaleX(0.9258);transform-origin:0 0;">5M</div>
<div class="t" style="left:513.60px;top:298px;font-size:8.4px;color:#222;transform:scaleX(0.9258);transform-origin:0 0;">4M</div>
<div class="t" style="left:513.60px;top:329px;font-size:8.4px;color:#222;transform:scaleX(0.9258);transform-origin:0 0;">2M</div>
<div class="t" style="left:520.60px;top:360px;font-size:8.4px;color:#111;font-weight:bold;transform:scaleX(0.9850);transform-origin:0 0;">0</div>
<div class="t" style="left:493.2px;top:325.8px;font-size:7.6px;color:#222;transform:translate(-50%,-50%) rotate(-90deg) scaleX(1.051);transform-origin:50% 50%">No. of visitors</div>
<div class="t" style="left:546.60px;top:387px;font-size:8.2px;color:#222;transform:scaleX(0.9345);transform-origin:0 0;">Place</div>
<div class="a" style="left:481.60px;top:397.40px;width:119.00px;height:50.00px;background:#fff;border:1px solid #f0f0f0;"></div>
<div class="a" style="left:491.40px;top:402.60px;width:0.80px;height:12.60px;background:#888;"></div>
<div class="a" style="left:491.40px;top:414.80px;width:100.00px;height:0.80px;background:#ddd;"></div>
<div class="a" style="left:492.00px;top:416.00px;width:47.00px;height:30.00px;background:#f0f0f0;border:1px dotted #c8c8c8;"></div>
<div class="a" style="left:539.00px;top:416.00px;width:47.60px;height:30.00px;background:#f0f0f0;border:1px dotted #c8c8c8;border-left:none;"></div>
<div class="t" style="left:500.60px;top:427px;font-size:8.2px;color:#222;transform:scaleX(0.9669);transform-origin:0 0;">John</div>
<div class="t" style="left:500.60px;top:438px;font-size:8.2px;color:#222;transform:scaleX(0.9065);transform-origin:0 0;">Doe</div>
<div class="a" style="left:545.00px;top:428.60px;width:30.60px;height:10.00px;background:#aaa;border-radius:1.5px;"></div>
<div class="t" style="left:556.60px;top:431px;font-size:6.6px;color:#fff;font-weight:bold;transform:scaleX(1.0354);transform-origin:0 0;">20</div>
<div class="a" style="left:160.00px;top:445.00px;width:491.00px;height:16.00px;background:#2a2a2a;"></div>
<div class="a" style="left:635.00px;top:51.00px;width:6.00px;height:394.50px;background:#262626;"></div>
<div class="a" style="left:641.00px;top:51.00px;width:9.30px;height:394.50px;background:#f1f1f1;"></div>
<div class="a" style="left:643.00px;top:75.00px;width:7.30px;height:298.00px;background:#c1c1c1;"></div>
<svg style="left:644.5px;top:438.5px;" width="5" height="3" viewBox="0 0 5 3"><path d="M0 0H5L2.5 3Z" fill="#333"/></svg>
<div class="t" style="left:177.30px;top:449px;font-size:8.2px;color:#d8d8d8;transform:scaleX(0.8808);transform-origin:0 0;">template1</div>
<div class="t" style="left:225.80px;top:449px;font-size:8.2px;color:#d8d8d8;transform:scaleX(0.8621);transform-origin:0 0;">layoutgrid2</div>
<div class="t" style="left:277.60px;top:449px;font-size:8.2px;color:#d8d8d8;transform:scaleX(0.8891);transform-origin:0 0;">gridrow23</div>
<div class="t" style="left:326.60px;top:449px;font-size:8.2px;color:#d8d8d8;transform:scaleX(0.8832);transform-origin:0 0;">gridcolumn44</div>
<div class="t" style="left:387.00px;top:449px;font-size:8.2px;color:#d8d8d8;transform:scaleX(0.8316);transform-origin:0 0;">panel4_1</div>
<div class="t" style="left:432.40px;top:449px;font-size:8.2px;color:#2f9cf4;transform:scaleX(0.8757);transform-origin:0 0;">chart4</div>
<svg style="left:215.6px;top:449.4px;" width="5" height="7" viewBox="0 0 5 7"><path d="M0.8 0.6 L3.9 3.4 L0.8 6.2" fill="none" stroke="#e4e4e4" stroke-width="1.05"/></svg>
<svg style="left:266.8px;top:449.4px;" width="5" height="7" viewBox="0 0 5 7"><path d="M0.8 0.6 L3.9 3.4 L0.8 6.2" fill="none" stroke="#e4e4e4" stroke-width="1.05"/></svg>
<svg style="left:316.2px;top:449.4px;" width="5" height="7" viewBox="0 0 5 7"><path d="M0.8 0.6 L3.9 3.4 L0.8 6.2" fill="none" stroke="#e4e4e4" stroke-width="1.05"/></svg>
<svg style="left:376.4px;top:449.4px;" width="5" height="7" viewBox="0 0 5 7"><path d="M0.8 0.6 L3.9 3.4 L0.8 6.2" fill="none" stroke="#e4e4e4" stroke-width="1.05"/></svg>
<svg style="left:421.6px;top:449.4px;" width="5" height="7" viewBox="0 0 5 7"><path d="M0.8 0.6 L3.9 3.4 L0.8 6.2" fill="none" stroke="#e4e4e4" stroke-width="1.05"/></svg>

<!-- part2.html -->
<div class="a" style="left:33.00px;top:29.00px;width:123.00px;height:21.50px;background:#3d3d3d;border-bottom:1px solid #2e2e2e;"></div>
<div class="a" style="left:33.00px;top:50.50px;width:123.00px;height:21.50px;background:#3d3d3d;border-bottom:1px solid #2e2e2e;"></div>
<svg style="left:41px;top:36.5px" width="4" height="6" viewBox="0 0 4 6"><path d="M0.3 0.5 L3.6 3 L0.3 5.5Z" fill="#bbb"/></svg><div class="t" style="left:51.50px;top:35px;font-size:8.8px;color:#bbb;transform:scaleX(0.9725);transform-origin:0 0;">Templates</div>
<div class="a" style="left:138.00px;top:34.00px;width:12.50px;height:12.50px;background:#2196f3;"></div>
<div class="a" style="left:140.60px;top:39.60px;width:7.30px;height:1.40px;background:#fff;"></div>
<div class="a" style="left:143.55px;top:36.60px;width:1.40px;height:7.30px;background:#fff;"></div>
<svg style="left:40px;top:58.5px" width="6" height="4" viewBox="0 0 6 4"><path d="M0.3 0.3 L5.7 0.3 L3 3.8Z" fill="#eee"/></svg><div class="t" style="left:51.50px;top:56px;font-size:8.8px;color:#fff;transform:scaleX(0.9439);transform-origin:0 0;">Widgets</div>
<div class="a" style="left:40.00px;top:78.00px;width:110.50px;height:16.50px;background:#333;border:1px solid #585858;border-radius:2px;"></div>
<svg style="left:45px;top:82.5px" width="8" height="8" viewBox="0 0 8 8"><circle cx="3.4" cy="3.4" r="2.7" fill="none" stroke="#ccc" stroke-width="1"/><path d="M5.3 5.3 L7 7" stroke="#ccc" stroke-width="1.1"/></svg><div class="t" style="left:55.00px;top:83px;font-size:7.2px;color:#777;transform:scaleX(0.8677);transform-origin:0 0;">Search...</div>
<div class="a" style="left:33.00px;top:99.00px;width:123.00px;height:27.00px;background:#4a4a4a;"></div>
<div class="t" style="left:40.30px;top:108px;font-size:7.2px;color:#eee;font-weight:bold;transform:scaleX(0.9285);transform-origin:0 0;">Data &amp; Live Widgets</div>
<div class="a" style="left:144.50px;top:126.00px;width:11.50px;height:290.00px;background:#484848;"></div>
<div class="a" style="left:33.00px;top:126.00px;width:111.50px;height:290.00px;background:#505050;"></div>
<div class="a" style="left:33.00px;top:276.00px;width:123.00px;height:25.00px;background:#4a4a4a;"></div>
<div class="t" style="left:40.30px;top:284px;font-size:7.2px;color:#eee;font-weight:bold;transform:scaleX(0.9286);transform-origin:0 0;">Container</div>
<div class="a" style="left:34.70px;top:126.00px;width:54.30px;height:49.30px;background:#333;"></div>
<svg style="left:51.9px;top:134.8px" width="20" height="20" viewBox="0 0 20 20"><rect x="0.5" y="0.5" width="19" height="19" fill="none" stroke="#a9a9a9"/><rect x="0.5" y="0.5" width="19" height="4" fill="#a9a9a9"/><path d="M3.67 4V20M6.83 4V20M10 4V20M13.17 4V20M16.33 4V20M0 7.4H20M0 10.5H20M0 13.6H20M0 16.7H20" stroke="#a9a9a9" stroke-width="1.05"/></svg><div class="t" style="left:44.93px;top:159px;font-size:7.2px;color:#aaa;transform:scaleX(0.9900);transform-origin:0 0;">Data Table</div>
<div class="a" style="left:90.20px;top:126.00px;width:54.30px;height:49.30px;background:#333;"></div>
<svg style="left:107.4px;top:134.8px" width="20" height="20" viewBox="0 0 20 20"><rect x="0.5" y="0.5" width="19" height="19" fill="none" stroke="#a9a9a9"/><rect x="3.5" y="3.5" width="13" height="3.6" fill="none" stroke="#a9a9a9"/><rect x="3.5" y="8.6" width="13" height="3.6" fill="#777" stroke="#a9a9a9"/><rect x="3.5" y="14" width="6.5" height="1.6" fill="#a9a9a9"/></svg><div class="t" style="left:109.09px;top:159px;font-size:7.2px;color:#aaa;transform:scaleX(0.9900);transform-origin:0 0;">Form</div>
<div class="a" style="left:34.70px;top:176.40px;width:54.30px;height:49.30px;background:#333;"></div>
<svg style="left:51.9px;top:185.2px" width="20" height="20" viewBox="0 0 20 20"><rect x="0.5" y="0.5" width="19" height="19" fill="none" stroke="#a9a9a9"/><rect x="3" y="4.5" width="2.2" height="3.6" fill="none" stroke="#a9a9a9" stroke-width="0.8"/><rect x="3" y="11" width="2.2" height="3.6" fill="none" stroke="#a9a9a9" stroke-width="0.8"/><path d="M7.5 5H17M7.5 7.3H17" stroke="#a9a9a9" stroke-width="0.8"/><rect x="7.5" y="11.2" width="9.5" height="2.8" fill="#777"/></svg><div class="t" style="left:56.35px;top:210px;font-size:7.2px;color:#aaa;transform:scaleX(0.9900);transform-origin:0 0;">List</div>
<div class="a" style="left:90.20px;top:176.40px;width:54.30px;height:49.30px;background:#333;"></div>
<svg style="left:107.4px;top:185.2px" width="20" height="20" viewBox="0 0 20 20"><path d="M5 3.2V0.5H17.5V15.5H15" fill="none" stroke="#a9a9a9"/><rect x="2.5" y="3.5" width="12" height="16" fill="none" stroke="#a9a9a9"/><path d="M4.5 10.5 L7.2 7.4 L9.4 9.6 L10.8 8.4 L12.6 10.5Z" fill="none" stroke="#a9a9a9" stroke-width="0.8"/><path d="M4.5 13H12.5M4.5 15.5H10.5" stroke="#a9a9a9" stroke-width="0.9"/></svg><div class="t" style="left:107.89px;top:210px;font-size:7.2px;color:#aaa;transform:scaleX(0.9900);transform-origin:0 0;">Cards</div>
<div class="a" style="left:34.70px;top:226.80px;width:54.30px;height:49.30px;background:#333;"></div>
<svg style="left:51.9px;top:235.6px" width="20" height="20" viewBox="0 0 20 20"><rect x="0.5" y="0.5" width="19" height="19" fill="none" stroke="#a9a9a9"/><rect x="3.5" y="3.5" width="13" height="3.6" fill="none" stroke="#a9a9a9"/><rect x="3.5" y="8.6" width="13" height="3.6" fill="#777" stroke="#a9a9a9"/><rect x="3.5" y="14" width="6.5" height="1.6" fill="#a9a9a9"/></svg><div class="t" style="left:46.06px;top:260px;font-size:7.2px;color:#aaa;transform:scaleX(0.9900);transform-origin:0 0;">Live Form</div>
<div class="a" style="left:90.20px;top:226.80px;width:54.30px;height:49.30px;background:#333;"></div>
<svg style="left:107.4px;top:235.6px" width="20" height="20" viewBox="0 0 20 20"><path d="M0.8 2.2 C0.8 0.2 19.2 0.2 19.2 2.2 L12 11.5 V19.3 H8 V11.5Z" fill="none" stroke="#a9a9a9" stroke-width="1.1"/><path d="M1 2.6 C4 4.6 16 4.6 19 2.6" fill="none" stroke="#a9a9a9" stroke-width="0.9"/></svg><div class="t" style="left:101.95px;top:260px;font-size:7.2px;color:#aaa;transform:scaleX(0.9900);transform-origin:0 0;">Live Filter</div>
<div class="a" style="left:34.70px;top:302.00px;width:54.30px;height:49.30px;background:#333;"></div>
<svg style="left:51.9px;top:310.8px" width="20" height="20" viewBox="0 0 20 20"><rect x="0" y="0" width="20" height="20" fill="#a9a9a9"/><g fill="#333"><rect x="1.5" y="1.5" width="4.7" height="4.7"/><rect x="7.65" y="1.5" width="4.7" height="4.7"/><rect x="13.8" y="1.5" width="4.7" height="4.7"/><rect x="1.5" y="7.65" width="4.7" height="4.7"/><rect x="1.5" y="13.8" width="4.7" height="4.7"/><rect x="7.65" y="13.8" width="4.7" height="4.7"/><rect x="13.8" y="13.8" width="4.7" height="4.7"/></g><rect x="7.2" y="7.2" width="11.6" height="5.6" fill="#8a8a8a"/></svg><div class="t" style="left:43.48px;top:335px;font-size:7.2px;color:#aaa;transform:scaleX(0.9900);transform-origin:0 0;">Grid Layout</div>
<div class="a" style="left:90.20px;top:302.00px;width:54.30px;height:49.30px;background:#333;"></div>
<svg style="left:107.4px;top:310.8px" width="20" height="20" viewBox="0 0 20 20"><rect x="0.6" y="0.6" width="18.8" height="18.8" fill="none" stroke="#a9a9a9" stroke-width="1.1"/><path d="M0 6H20M0 14H20" stroke="#a9a9a9" stroke-width="1.1"/><path d="M3 3.3H6M3 16.8H6" stroke="#a9a9a9" stroke-width="1"/></svg><div class="t" style="left:101.55px;top:335px;font-size:7.2px;color:#aaa;transform:scaleX(0.9900);transform-origin:0 0;">Accordion</div>
<div class="a" style="left:34.70px;top:352.60px;width:54.30px;height:49.30px;background:#333;"></div>
<svg style="left:51.9px;top:361.4px" width="20" height="20" viewBox="0 0 20 20"><path d="M0.6 0.6H19.4V19.4H0.6Z" fill="none" stroke="#a9a9a9" stroke-width="1.2"/><path d="M4.2 19.4V5.2H19.4" fill="none" stroke="#a9a9a9" stroke-width="1.2"/><rect x="11" y="5.6" width="7.2" height="2.4" fill="#a9a9a9"/></svg><div class="t" style="left:54.37px;top:386px;font-size:7.2px;color:#aaa;transform:scaleX(0.9900);transform-origin:0 0;">Tabs</div>
<div class="a" style="left:90.20px;top:352.60px;width:54.30px;height:49.30px;background:#333;"></div>
<svg style="left:107.4px;top:361.4px" width="20" height="20" viewBox="0 0 20 20"><circle cx="3.3" cy="10" r="3.3" fill="#a9a9a9"/><circle cx="10" cy="10" r="2.8" fill="none" stroke="#a9a9a9" stroke-width="0.9"/><circle cx="10" cy="10" r="1" fill="#a9a9a9"/><circle cx="16.7" cy="10" r="2.8" fill="none" stroke="#a9a9a9" stroke-width="0.9"/></svg><div class="t" style="left:106.31px;top:386px;font-size:7.2px;color:#aaa;transform:scaleX(0.9900);transform-origin:0 0;">Wizard</div>
<div class="a" style="left:34.70px;top:403.30px;width:54.30px;height:13.00px;background:#333;"></div>
<div class="a" style="left:90.20px;top:403.30px;width:54.30px;height:13.00px;background:#333;"></div>
<div class="a" style="left:52.00px;top:412.60px;width:20.00px;height:3.60px;background:#a9a9a9;"></div>
<div class="a" style="left:108.50px;top:412.60px;width:2.40px;height:1.20px;background:#a9a9a9;"></div>
<div class="a" style="left:113.20px;top:412.60px;width:2.40px;height:1.20px;background:#a9a9a9;"></div>
<div class="a" style="left:117.90px;top:412.60px;width:2.40px;height:1.20px;background:#a9a9a9;"></div>
<div class="a" style="left:122.60px;top:412.60px;width:2.40px;height:1.20px;background:#a9a9a9;"></div>
<div class="a" style="left:33.00px;top:416.20px;width:123.00px;height:21.50px;background:#3d3d3d;border-bottom:1px solid #2e2e2e;box-shadow:0 -1px 2px rgba(0,0,0,.35);"></div>
<div class="a" style="left:33.00px;top:438.00px;width:123.00px;height:23.00px;background:#3d3d3d;"></div>
<svg style="left:41px;top:423.7px" width="4" height="6" viewBox="0 0 4 6"><path d="M0.3 0.5 L3.6 3 L0.3 5.5Z" fill="#ddd"/></svg><div class="t" style="left:51.60px;top:422px;font-size:8.8px;color:#ccc;transform:scaleX(0.9320);transform-origin:0 0;">Page Structure</div>
<div class="a" style="left:156.80px;top:34.80px;width:7.80px;height:11.60px;background:#3d3d3d;"></div>
<svg style="left:158px;top:37px" width="5" height="6" viewBox="0 0 5 6"><path d="M2.3 0.5 L0.5 3 L2.3 5.5 M4.5 0.5 L2.7 3 L4.5 5.5" fill="none" stroke="#bbb" stroke-width="0.9"/></svg><div class="a" style="left:156.80px;top:241.00px;width:2.30px;height:29.50px;background:#8a8a8a;border-radius:1px;"></div>

<!-- part4.html -->
<div class="a" style="left:651.00px;top:29.00px;width:169.00px;height:22.50px;background:#3f3f3f;"></div>
<div class="a" style="left:651.00px;top:51.50px;width:169.00px;height:22.00px;background:#1a1a1a;"></div>
<div class="a" style="left:651.00px;top:73.50px;width:169.00px;height:388.00px;background:#414141;"></div>
<div class="a" style="left:650.20px;top:51.00px;width:1.50px;height:410.00px;background:#2a2a2a;"></div>
<svg style="left:764.0px;top:59.0px;" width="11.5" height="8.5" viewBox="0 0 11.5 8.5"><rect x="0.5" y="0.5" width="8.6" height="6" rx="0.8" fill="none" stroke="#8a8a8a" stroke-width="0.9"/><path d="M3 8H6.4" stroke="#8a8a8a" stroke-width="0.9"/><rect x="8" y="2.6" width="3" height="5.4" rx="0.5" fill="#1a1a1a" stroke="#8a8a8a" stroke-width="0.8"/></svg>
<svg style="left:735.0px;top:58.0px;" width="7" height="10" viewBox="0 0 7 10"><circle cx="3" cy="2.4" r="1.9" fill="none" stroke="#8a8a8a" stroke-width="0.9"/><path d="M0.4 9.5 C0.4 6.4 2 5.6 3.6 5.6 M3.6 6.4 L6.6 9.6 M6.6 6.4 L3.6 9.6" fill="none" stroke="#8a8a8a" stroke-width="0.9"/></svg>
<div class="a" style="left:657.30px;top:78.30px;width:158.00px;height:17.00px;background:#343434;border:1px solid #5a5a5a;border-radius:2px;"></div>
<svg style="left:662.3px;top:83.0px;" width="8" height="8" viewBox="0 0 8 8"><circle cx="3.4" cy="3.4" r="2.7" fill="none" stroke="#ccc" stroke-width="1"/><path d="M5.3 5.3 L7 7" stroke="#ccc" stroke-width="1.1"/></svg>
<div class="t" style="left:672.40px;top:83px;font-size:7.2px;color:#777;transform:scaleX(0.8886);transform-origin:0 0;">Search...</div>
<div class="a" style="left:651.70px;top:99.80px;width:168.30px;height:0.80px;background:#5a5a5a;"></div>
<div class="t" style="left:658.00px;top:108px;font-size:7.3px;color:#e8e8e8;transform:scaleX(0.9525);transform-origin:0 0;">Title</div>
<div class="a" style="left:658.30px;top:119.30px;width:132.70px;height:16.20px;background:#2f2f2f;border:1px solid #5a5a5a;border-radius:1.5px;"></div>
<svg style="left:795.0px;top:122.1px;" width="10" height="10" viewBox="0 0 10 10"><g fill="none" stroke="#d2d2d2" stroke-width="1.2"><ellipse cx="3.6" cy="6.5" rx="2.45" ry="1.7" transform="rotate(-37 3.6 6.5)"/><ellipse cx="7" cy="3.9" rx="2.45" ry="1.7" transform="rotate(-37 7 3.9)"/></g></svg>
<div class="t" style="left:658.00px;top:145px;font-size:7.3px;color:#e8e8e8;transform:scaleX(0.8888);transform-origin:0 0;">Sub Heading</div>
<div class="a" style="left:658.30px;top:156.70px;width:132.70px;height:16.20px;background:#2f2f2f;border:1px solid #5a5a5a;border-radius:1.5px;"></div>
<svg style="left:795.0px;top:159.5px;" width="10" height="10" viewBox="0 0 10 10"><g fill="none" stroke="#d2d2d2" stroke-width="1.2"><ellipse cx="3.6" cy="6.5" rx="2.45" ry="1.7" transform="rotate(-37 3.6 6.5)"/><ellipse cx="7" cy="3.9" rx="2.45" ry="1.7" transform="rotate(-37 7 3.9)"/></g></svg>
<div class="t" style="left:658.00px;top:182px;font-size:7.3px;color:#e8e8e8;transform:scaleX(0.9009);transform-origin:0 0;">Name</div>
<div class="a" style="left:658.30px;top:194.20px;width:132.70px;height:16.20px;background:#2f2f2f;border:1px solid #5a5a5a;border-radius:1.5px;"></div>
<div class="t" style="left:664.50px;top:198px;font-size:7.3px;color:#ddd;transform:scaleX(0.9546);transform-origin:0 0;">chart4</div>
<div class="a" style="left:657.90px;top:219.00px;width:73.00px;height:16.70px;background:#585858;border:1px solid #8c8c8c;"></div>
<div class="t" style="left:664.50px;top:223px;font-size:7.3px;color:#fff;font-weight:bold;transform:scaleX(0.9087);transform-origin:0 0;">Advanced Settings</div>
<div class="a" style="left:651.70px;top:245.20px;width:168.30px;height:13.80px;background:#1c1c1c;"></div>
<div class="t" style="left:658.00px;top:248px;font-size:8.2px;color:#e8e8e8;transform:scaleX(0.9342);transform-origin:0 0;">Layout</div>
<div class="t" style="left:658.00px;top:268px;font-size:7.3px;color:#e8e8e8;transform:scaleX(0.9184);transform-origin:0 0;">Width</div>
<div class="a" style="left:658.30px;top:279.40px;width:132.70px;height:16.20px;background:#2f2f2f;border:1px solid #5a5a5a;border-radius:1.5px;"></div>
<div class="t" style="left:658.00px;top:305px;font-size:7.3px;color:#e8e8e8;transform:scaleX(0.9130);transform-origin:0 0;">Height</div>
<div class="a" style="left:658.30px;top:316.40px;width:132.70px;height:16.20px;background:#2f2f2f;border:1px solid #5a5a5a;border-radius:1.5px;"></div>
<div class="t" style="left:664.50px;top:320px;font-size:7.3px;color:#ddd;transform:scaleX(0.9329);transform-origin:0 0;">210px</div>
<div class="a" style="left:651.70px;top:342.00px;width:168.30px;height:13.80px;background:#1c1c1c;"></div>
<div class="t" style="left:658.00px;top:345px;font-size:8.2px;color:#e8e8e8;transform:scaleX(0.9449);transform-origin:0 0;">Dataset</div>
<div class="t" style="left:658.00px;top:364px;font-size:7.3px;color:#e8e8e8;transform:scaleX(0.9140);transform-origin:0 0;">Script Variable</div>
<div class="a" style="left:658.30px;top:375.80px;width:132.70px;height:16.20px;background:#2f2f2f;border:1px solid #5a5a5a;border-radius:1.5px;"></div>
<div class="t" style="left:658.00px;top:402px;font-size:7.3px;color:#e8e8e8;transform:scaleX(0.8949);transform-origin:0 0;">Value</div>
<div class="a" style="left:658.30px;top:413.40px;width:132.70px;height:16.20px;background:#2f2f2f;border:1px solid #5a5a5a;border-radius:1.5px;"></div>
<svg style="left:795.0px;top:416.2px;" width="10" height="10" viewBox="0 0 10 10"><g fill="none" stroke="#d2d2d2" stroke-width="1.2"><ellipse cx="3.6" cy="6.5" rx="2.45" ry="1.7" transform="rotate(-37 3.6 6.5)"/><ellipse cx="7" cy="3.9" rx="2.45" ry="1.7" transform="rotate(-37 7 3.9)"/></g></svg>
<div class="t" style="left:658.00px;top:439px;font-size:7.3px;color:#e8e8e8;transform:scaleX(0.8780);transform-origin:0 0;">Group by</div>
<div class="a" style="left:658.30px;top:450.80px;width:132.70px;height:16.20px;background:#2f2f2f;border:1px solid #5a5a5a;border-radius:1.5px;"></div>

<!-- part5.html -->
<div class="a" style="left:631.00px;top:29.00px;width:106.00px;height:42.00px;background:#191919;box-shadow:0 1px 3px rgba(0,0,0,.6);"></div>
<svg style="left:640.8px;top:38.0px;" width="8" height="7" viewBox="0 0 8 7"><path d="M0.5 0.5 H5 L7 2.5 V6.5 H0.5Z" fill="none" stroke="#bbb" stroke-width="0.9"/><rect x="3.6" y="3.2" width="3" height="2.6" fill="#bbb"/></svg>
<div class="t" style="left:651.00px;top:37px;font-size:8.3px;color:#cfcfcf;transform:scaleX(0.8721);transform-origin:0 0;text-shadow:0 0 0.3px #cfcfcf;">Project As ZIP</div>
<div class="a" style="left:634.40px;top:50.20px;width:99.30px;height:18.40px;background:#2196f3;"></div>
<div class="a" style="left:637.00px;top:52.00px;width:93.20px;height:14.60px;border:2.1px solid #f5861f;border-radius:5.5px;"></div>
<svg style="left:640.8px;top:57.0px;" width="8" height="5" viewBox="0 0 8 5"><rect x="0.5" y="0.3" width="7.2" height="4.6" rx="0.5" fill="none" stroke="#fff" stroke-width="1"/><path d="M4.1 0.3V4.9" stroke="#fff" stroke-width="1"/></svg>
<div class="t" style="left:651.00px;top:55px;font-size:8.3px;color:#fff;transform:scaleX(0.8685);transform-origin:0 0;text-shadow:0 0 0.3px #fff;">Template Bundle As ZIP</div>

</div>
</body></html>
